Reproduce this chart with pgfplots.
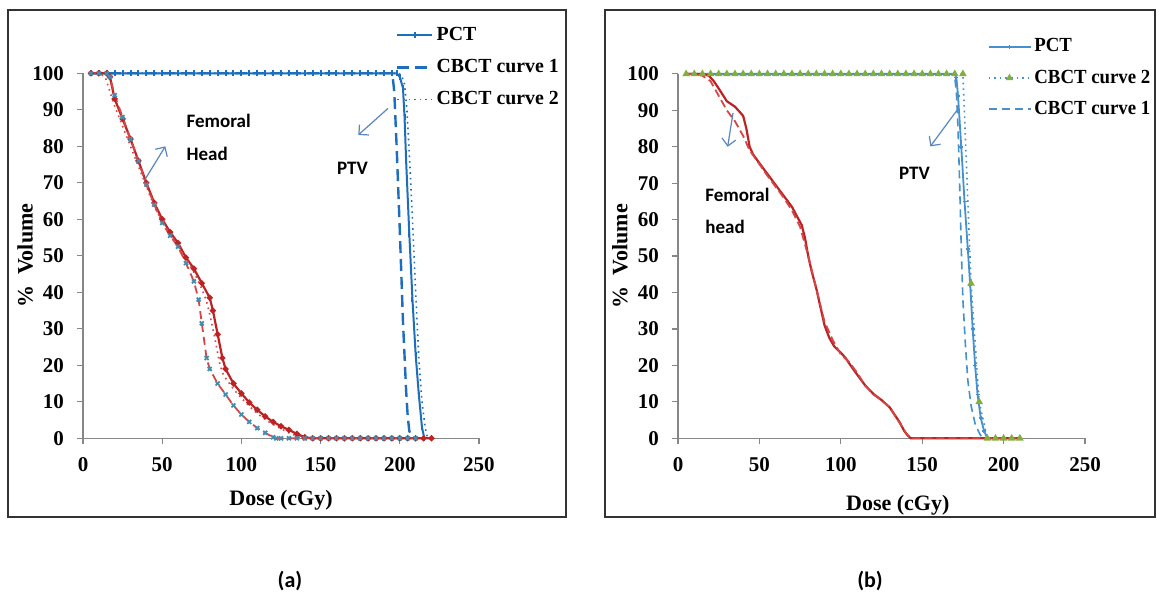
\documentclass[border=0pt]{standalone}
\usepackage{fontspec}
\setmainfont{Liberation Serif}
\newfontfamily\calib{Carlito}
\usepackage{graphicx}
\usepackage{pgfplots}
\pgfplotsset{compat=1.18}
\usetikzlibrary{arrows.meta}
\newcommand{\cnda}[1]{\scalebox{0.99}[1]{#1}}
\newcommand{\cndb}[1]{\scalebox{0.94}[1]{#1}}
\definecolor{ptvblue}{RGB}{30,110,190}
\definecolor{ptvblueL}{RGB}{70,145,205}
\definecolor{fred}{RGB}{190,35,35}
\definecolor{fredL}{RGB}{215,70,70}
\definecolor{xblue}{RGB}{70,140,175}
\definecolor{tgreen}{RGB}{130,175,60}
\definecolor{arrowc}{RGB}{90,135,190}
\definecolor{axgray}{RGB}{135,135,135}
\pgfplotsset{
  myaxis/.style={
    scale only axis, clip=false,
    xmin=0, xmax=250, ymin=0, ymax=100,
    xtick={0,50,...,250}, ytick={0,10,...,100},
    axis x line*=bottom, axis y line*=left,
    axis line style={axgray, line width=0.6pt},
    tick style={axgray, line width=0.6pt},
    tick align=outside, major tick length=3pt,
    /pgf/number format/assume math mode=true,
    ticklabel style={font=\bfseries\fontsize{10.5}{12}\selectfont},
    xticklabel style={yshift=-3pt},
    yticklabel style={xshift=-3pt},
    label style={font=\bfseries\fontsize{11}{13}\selectfont},
    legend cell align=left,
  },
}
\begin{document}
\begin{tikzpicture}[x=1pt,y=1pt]
\useasboundingbox (0,0) rectangle (578.5,300);
\fill[white] (0,0) rectangle (578.5,300);
\draw[line width=0.9pt, black!80] (4,41.5) rectangle (283,295);
\draw[line width=0.9pt, black!80] (302.5,41.5) rectangle (577.5,295);
\node[font=\calib\bfseries\fontsize{11}{13}\selectfont] at (145,9.5) {(a)};
\node[font=\calib\bfseries\fontsize{11}{13}\selectfont] at (435,9.5) {(b)};

% ---------------- panel (a) ----------------
\begin{axis}[myaxis, at={(41.5pt,80.85pt)}, anchor=south west,
  width=198pt, height=182.5pt,
  xlabel={Dose (cGy)}, ylabel={\%\ \ Volume},
  xlabel style={at={(axis description cs:0.5,-0.17)}, anchor=center},
  ylabel style={at={(axis description cs:-0.146,0.5)}, anchor=center},
  legend style={at={(0.775,1.147)}, anchor=north west, draw=none, fill=none,
    font=\bfseries\fontsize{10}{12}\selectfont, row sep=5pt,
    nodes={inner sep=1.5pt}},
  legend image code/.code={\draw[mark repeat=2,mark phase=2,#1] plot coordinates {(0pt,0pt) (8.75pt,0pt) (17.5pt,0pt)};},
]
% PTV PCT
\addplot[ptvblue, line width=1pt, mark=|, mark size=1.4pt, mark options={solid}] coordinates {
(5,100)(10,100)(15,100)(20,100)(25,100)(30,100)(35,100)(40,100)(45,100)(50,100)
(55,100)(60,100)(65,100)(70,100)(75,100)(80,100)(85,100)(90,100)(95,100)(100,100)
(105,100)(110,100)(115,100)(120,100)(125,100)(130,100)(135,100)(140,100)(145,100)(150,100)
(155,100)(160,100)(165,100)(170,100)(175,100)(180,100)(185,100)(190,100)(195,100)(198,100)
(200,99)(202,96)(203,88)(204,76)(206,56)(208,38)(210,23)(212,12)(214,3)(215.5,0)};
\addlegendentry{\cnda{PCT}}
% PTV CBCT 1
\addplot[ptvblue, line width=1.2pt, dash pattern=on 6pt off 3pt] coordinates {
(5,100)(50,100)(100,100)(150,100)(190,100)(194,100)(195.5,99)(196.5,95)(198,80)(200,57)
(202,32)(204,13)(205,6)(206,2)(208,0)};
\addlegendentry{\cnda{CBCT curve 1}}
% PTV CBCT 2
\addplot[ptvblue, line width=0.8pt, dotted] coordinates {
(5,100)(50,100)(100,100)(150,100)(199,100)(201,99.5)(203,97)(204.5,90)(206,78)(208,60)
(210,40)(212,22)(214,10)(216,3)(217.5,0)};
\addlegendentry{\cnda{CBCT curve 2}}
% Femoral PCT
\addplot[fred, line width=1.1pt, mark=*, mark size=0.9pt, forget plot] coordinates {
(5,100)(10,100)(15,100)(17,99)(20,93)(25,87.5)(30,82)(35,76)(40,70)(45,64.5)
(50,60)(55,56.5)(60,53.5)(65,49.5)(70,46.5)(75,42.5)(80,38.5)(82,35)(85,28.5)(88,22)
(90,19)(95,15)(100,12.3)(105,9.8)(110,7.8)(115,6)(120,4.5)(125,3.3)(130,2.3)(135,1.2)
(140,0.3)(145,0)(150,0)(155,0)(160,0)(165,0)(170,0)(175,0)(180,0)(185,0)(190,0)(195,0)
(200,0)(205,0)(210,0)(215,0)(220,0)};
% Femoral CBCT 1
\addplot[fredL, line width=0.9pt, dash pattern=on 4pt off 2.5pt, mark=x, mark size=1.4pt,
  mark options={solid, xblue}, forget plot] coordinates {
(5,100)(10,100)(15,100)(17,99)(20,94)(25,88)(30,82)(35,76)(40,69.5)(45,64)
(50,59)(55,55.5)(60,52.5)(65,48)(70,43)(73,38)(75,31.5)(78,22)(80,19)(85,15)
(90,12)(95,9)(100,6.5)(105,4.5)(110,2.8)(115,1.5)(120,0.3)(122,0)(125,0)(130,0)
(135,0)(140,0)(145,0)(150,0)(155,0)(160,0)(165,0)(170,0)(175,0)(180,0)(185,0)(190,0)
(195,0)(200,0)(205,0)(210,0)};
% Femoral CBCT 2
\addplot[fredL, line width=0.8pt, dotted, forget plot] coordinates {
(5,100)(10,100)(14,99)(17,95)(20,91)(25,85.5)(30,80)(35,74.5)(40,69)(45,63.5)
(50,59.5)(55,56)(60,53)(65,49)(70,45.5)(75,41)(78,37.5)(80,34)(83,28)(86,21)
(88,18)(90,16.5)(95,13.5)(100,11)(105,8.8)(110,6.8)(115,5.2)(120,3.8)(125,2.6)(130,1.5)
(135,0.6)(138,0)(145,0)};
% annotations
\node[font=\calib\bfseries\fontsize{9.5}{11}\selectfont, anchor=west] at (axis cs:61,87) {Femoral};
\node[font=\calib\bfseries\fontsize{9.5}{11}\selectfont, anchor=west] at (axis cs:61,78) {Head};
\node[font=\calib\bfseries\fontsize{9.5}{11}\selectfont, anchor=west] at (axis cs:156,74) {PTV};
\draw[arrowc, line width=0.6pt, -{Straight Barb[length=3.5pt]}] (axis cs:39,70.8) -- (axis cs:52,80);
\draw[arrowc, line width=0.6pt, -{Straight Barb[length=3.5pt]}] (axis cs:192.6,90.4) -- (axis cs:173.8,83.1);
\end{axis}

% ---------------- panel (b) ----------------
\begin{axis}[myaxis, at={(339pt,80.85pt)}, anchor=south west,
  width=203.5pt, height=182.2pt,
  xlabel={Dose (cGy)}, ylabel={\%\ \ Volume},
  xlabel style={at={(axis description cs:0.54,-0.185)}, anchor=center},
  ylabel style={at={(axis description cs:-0.1425,0.5)}, anchor=center},
  legend style={at={(0.745,1.117)}, anchor=north west, draw=none, fill=none,
    font=\bfseries\fontsize{10}{12}\selectfont, row sep=4.5pt,
    nodes={inner sep=1.5pt}},
  legend image code/.code={\draw[mark repeat=2,mark phase=2,#1] plot coordinates {(0pt,0pt) (10.5pt,0pt) (21pt,0pt)};},
]
% PTV PCT
\addplot[ptvblueL, line width=0.9pt, mark=+, mark size=1pt, mark options={solid}] coordinates {
(5,100)(10,100)(15,100)(20,100)(25,100)(30,100)(35,100)(40,100)(45,100)(50,100)
(55,100)(60,100)(65,100)(70,100)(75,100)(80,100)(85,100)(90,100)(95,100)(100,100)
(105,100)(110,100)(115,100)(120,100)(125,100)(130,100)(135,100)(140,100)(145,100)(150,100)
(155,100)(160,100)(165,100)(170,100)(171,99)(172,94)(174,80)(176,65)(178,52)(179.5,42)
(181,30)(182.5,20)(184,12)(186,5.5)(188,2)(190,0)(195,0)(200,0)(205,0)(210,0)};
\addlegendentry{\cndb{PCT}}
% PTV CBCT 2
\addplot[ptvblueL, line width=0.8pt, dotted, mark=triangle*, mark size=1.4pt,
  mark options={solid, tgreen}] coordinates {
(5,100)(10,100)(15,100)(20,100)(25,100)(30,100)(35,100)(40,100)(45,100)(50,100)
(55,100)(60,100)(65,100)(70,100)(75,100)(80,100)(85,100)(90,100)(95,100)(100,100)
(105,100)(110,100)(115,100)(120,100)(125,100)(130,100)(135,100)(140,100)(145,100)(150,100)
(155,100)(160,100)(165,100)(170,100)(175,100)(180,42.5)(185,10)(190,0)(195,0)(200,0)
(205,0)(210,0)};
\addlegendentry{\cndb{CBCT curve 2}}
% PTV CBCT 1
\addplot[ptvblueL, line width=0.8pt, dash pattern=on 4pt off 2.5pt] coordinates {
(5,100)(50,100)(100,100)(150,100)(169,100)(170,99)(171,95)(172,85)(173,70)(174,52)
(175,38)(176.5,26)(178,16)(180,9)(182.5,4)(185,1.5)(187,0)(190,0)};
\addlegendentry{\cndb{CBCT curve 1}}
% Femoral PCT
\addplot[fred, line width=1.1pt, forget plot] coordinates {
(5,100)(10,100)(15,100)(19,99.5)(22,98)(25,96)(30,92.5)(35,91)(38,89.5)(40,88.5)
(42,85)(44,80)(46,78)(50,75.5)(55,72.5)(60,69.5)(65,66.5)(70,63.5)(73,61)(76,58.5)
(78,55)(80,50)(82,46)(85,41)(88,35)(90,31)(93,27.5)(96,25.2)(100,23.5)(103,22)
(106,20)(110,17.5)(115,14.5)(120,12.2)(125,10.5)(130,8.5)(133,6.5)(136,4.5)(139,2)(141,0.8)
(143,0)(145,0)(150,0)(160,0)(170,0)(180,0)(190,0)(200,0)(210,0)};
% Femoral CBCT
\addplot[fredL, line width=0.9pt, dash pattern=on 4pt off 2pt, forget plot] coordinates {
(5,100)(10,100)(15,99.5)(20,98)(25,94)(30,90)(35,87)(40,83)(44,79)(48,76.5)
(55,72)(60,69)(65,66)(70,62.5)(75,58)(80,50)(85,41)(90,32)(95,27)(100,23)
(105,21)(110,18)(115,14.5)(120,12)(125,10.5)(130,8.5)(135,5)(140,1.5)(143,0)(150,0)
(160,0)(170,0)(180,0)(190,0)(200,0)(210,0)};
% annotations
\node[font=\calib\bfseries\fontsize{9.5}{11}\selectfont, anchor=west] at (axis cs:12.5,66.8) {Femoral};
\node[font=\calib\bfseries\fontsize{9.5}{11}\selectfont, anchor=west] at (axis cs:12.5,58.1) {head};
\node[font=\calib\bfseries\fontsize{9.5}{11}\selectfont, anchor=west] at (axis cs:131.5,72.7) {PTV};
\draw[arrowc, line width=0.6pt, -{Straight Barb[length=3.5pt]}] (axis cs:33.8,89.3) -- (axis cs:30.5,80);
\draw[arrowc, line width=0.6pt, -{Straight Barb[length=3.5pt]}] (axis cs:171.5,90.1) -- (axis cs:155,80.1);
\end{axis}
\end{tikzpicture}
\end{document}
